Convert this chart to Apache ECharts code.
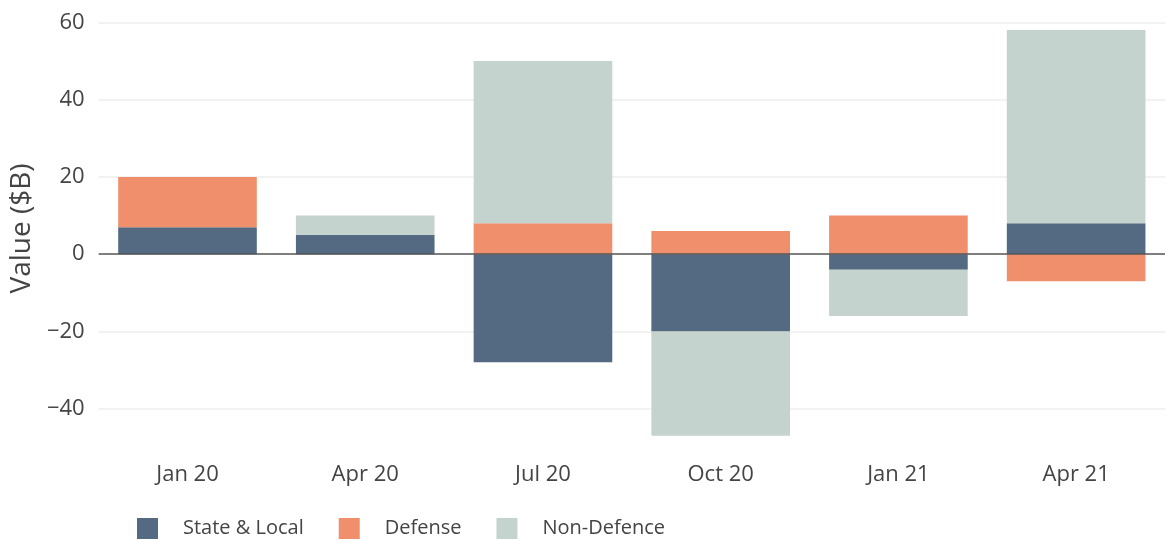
<!DOCTYPE html>
<html><head><meta charset="utf-8">
<script src="https://cdn.jsdelivr.net/npm/echarts@6/dist/echarts.min.js"></script>
<style>html,body{margin:0;padding:0;background:#fff}#c{width:1168px;height:542px}</style>
</head><body><div id="c"></div>
<script>
const categories = ['Jan 20', 'Apr 20', 'Jul 20', 'Oct 20', 'Jan 21', 'Apr 21'];
const stateLocal = [7, 5, -28, -20, -4, 8];
const defense = [13, 0, 8, 6, 10, -7];
const nonDefence = [0, 5, 42, -27, -12, 50];
const yTicks = [-40, -20, 0, 20, 40, 60];

const font = 'Open Sans';
const chart = echarts.init(document.getElementById('c'));
const mk = (name, data, color, extra) => Object.assign({
  name, type: 'bar', stack: 'total', data, barCategoryGap: '22%',
  itemStyle: { color }
}, extra || {});
chart.setOption({
  animation: false,
  grid: { left: 97, right: 3, top: 5, bottom: 90 },
  legend: {
    left: 132, top: 513, itemWidth: 21, itemHeight: 21, itemGap: 35,
    icon: 'rect',
    textStyle: { fontFamily: font, fontSize: 20, color: '#444', padding: [0, 0, 0, 20] },
    data: ['State & Local', 'Defense', 'Non-Defence']
  },
  xAxis: {
    type: 'category', data: categories,
    axisLine: { show: false }, axisTick: { show: false },
    axisLabel: { fontFamily: font, fontSize: 22, color: '#444', margin: 12 }
  },
  yAxis: {
    type: 'value', min: -51.2, max: 64.5,
    name: 'Value ($B)', nameLocation: 'middle', nameGap: 58,
    nameTextStyle: { fontFamily: font, fontSize: 28, color: '#444' },
    axisLine: { show: false }, axisTick: { show: false },
    axisLabel: {
      fontFamily: font, fontSize: 22, color: '#444', margin: 14, customValues: yTicks,
      formatter: v => String(v).replace('-', '\u2212')
    },
    splitLine: { show: false }
  },
  series: [
    mk('State & Local', stateLocal, '#536a82', {
      markLine: {
        silent: true, symbol: 'none', label: { show: false }, z: 0,
        data: yTicks.filter(v => v !== 0).map(v => ({ yAxis: v, lineStyle: { color: '#eeeeee', width: 1.5, type: 'solid' } }))
      }
    }),
    mk('Defense', defense, '#ef8f6b'),
    mk('Non-Defence', nonDefence, '#c5d3ce', {
      markLine: {
        silent: true, symbol: 'none', label: { show: false }, z: 5,
        data: [{ yAxis: 0, lineStyle: { color: '#555', width: 1.5, type: 'solid' } }]
      }
    })
  ]
});
</script></body></html>
